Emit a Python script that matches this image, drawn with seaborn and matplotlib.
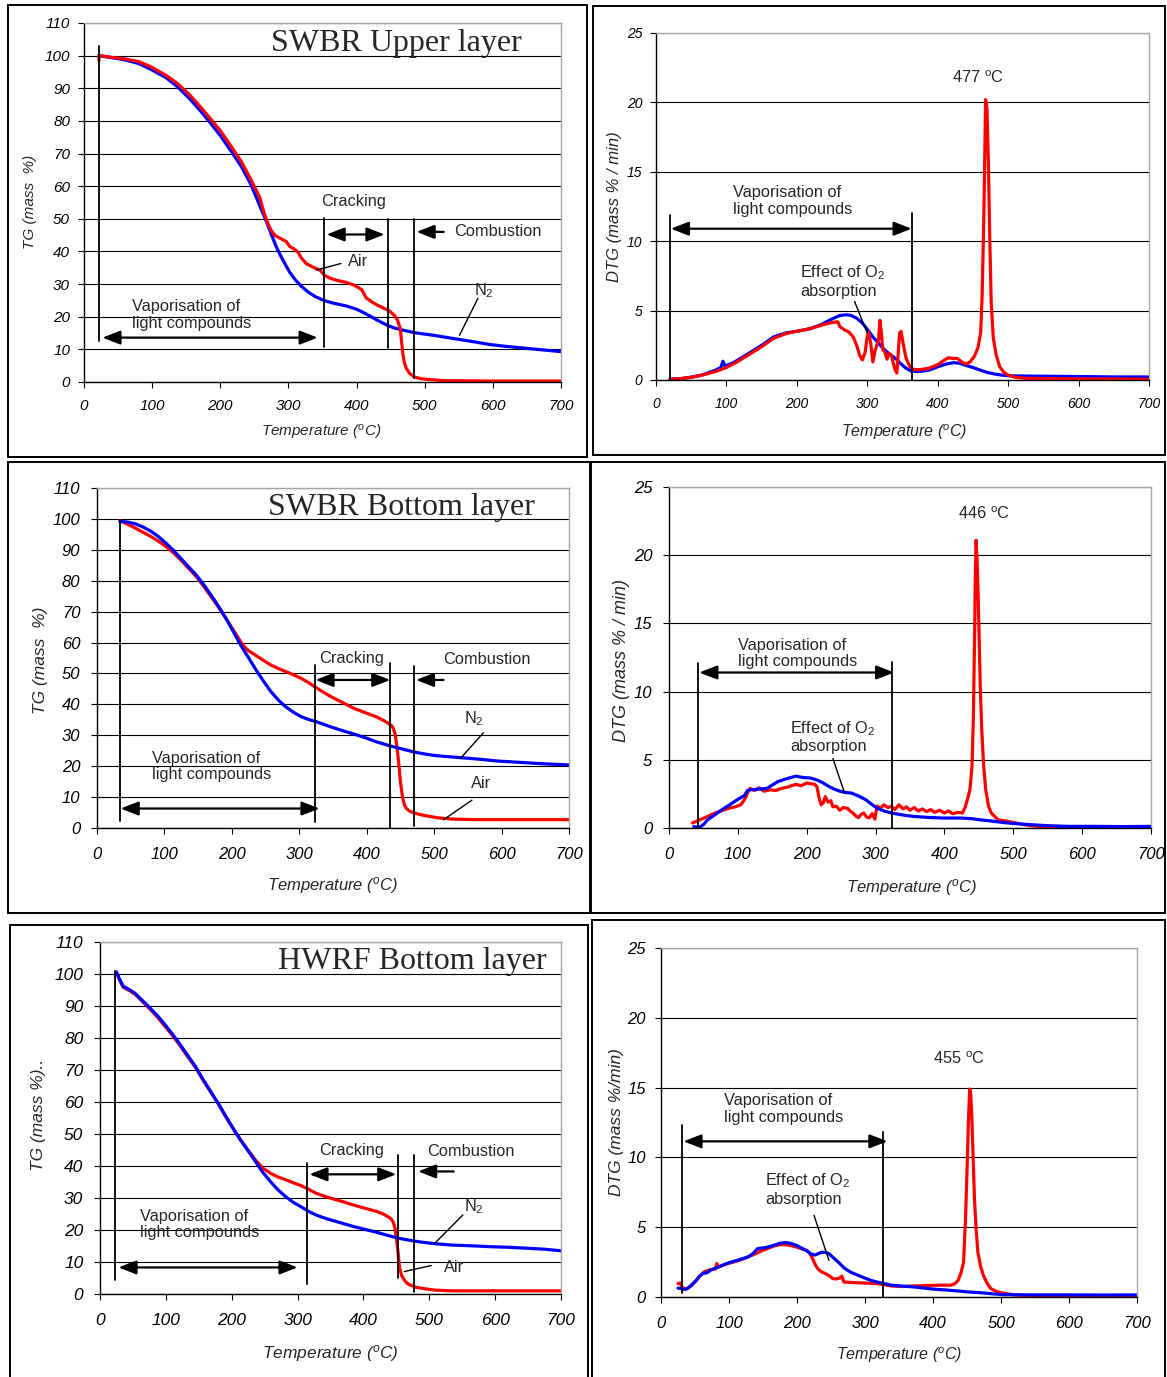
import numpy as np
import matplotlib
matplotlib.use("Agg")
import matplotlib.pyplot as plt
import seaborn as sns
from matplotlib.patches import Rectangle

# =============================
# DATA
# =============================
# SWBR upper layer - TG
up_tg_n2_t = [22, 40, 60, 80, 98, 120, 137, 155, 170, 185, 200, 215, 231, 245, 258, 267, 275, 282,
              289, 296, 302, 310, 319, 330, 340, 352, 365, 385, 400, 407, 418, 429, 438, 446, 456,
              468, 485, 510, 540, 570, 595, 620, 650, 675, 700]
up_tg_n2 = [100, 99.4, 98.7, 97.6, 95.8, 93.3, 90.5, 86.8, 83.3, 79.5, 75.5, 71, 66, 60.5, 54, 49.5,
            45.2, 41.5, 38.5, 35.8, 33.6, 31.3, 29.3, 27.4, 26.1, 25, 24.2, 23.3, 22.3, 21.6, 20.4,
            19.1, 18.1, 17.3, 16.5, 15.9, 15.1, 14.4, 13.4, 12.4, 11.5, 10.9, 10.3, 9.8, 9.3]
up_tg_air_t = [22, 22, 40, 60, 80, 98, 120, 137, 155, 170, 185, 200, 215, 231, 245, 258, 264, 270,
               275, 281, 290, 297, 302, 308, 314, 319, 326, 335, 347, 352, 360, 370, 385, 395, 402,
               408, 411, 414, 422, 430, 440, 448, 455, 460, 464, 466, 468, 470, 473, 478, 485, 495,
               510, 530, 600, 700]
up_tg_air = [98.5, 100, 99.5, 99, 98.2, 96.6, 94, 91.5, 88, 84.5, 80.8, 77, 72.5, 67.5, 62, 56.5, 52,
             48.5, 46.3, 44.8, 43.8, 43, 41.5, 40.8, 39.8, 38, 36.3, 35.3, 34.2, 32.8, 31.9, 31.2,
             30.5, 29.8, 29, 28.2, 27, 25.8, 24.6, 23.6, 22.6, 21.8, 20.5, 19, 16.5, 12.5, 8.5, 6,
             4.2, 2.6, 1.5, 1, 0.7, 0.4, 0.3, 0.3]

# SWBR upper layer - DTG
up_dtg_n2_t = [20, 35, 50, 65, 84, 92, 95, 98, 110, 131, 150, 167, 185, 199, 219, 235, 246, 261, 270,
               277, 285, 293, 300, 308, 316, 324, 332, 340, 347, 355, 362, 371, 387, 400, 412, 423,
               432, 440, 450, 460, 470, 481, 491, 501, 550, 600, 650, 700]
up_dtg_n2 = [0.05, 0.1, 0.2, 0.35, 0.7, 0.9, 1.35, 1.0, 1.25, 1.9, 2.5, 3.1, 3.4, 3.5, 3.7, 4.0, 4.3,
             4.65, 4.7, 4.65, 4.45, 4.1, 3.65, 3.1, 2.65, 2.2, 1.85, 1.55, 1.2, 0.85, 0.65, 0.6, 0.7,
             0.95, 1.15, 1.25, 1.2, 1.05, 0.9, 0.72, 0.55, 0.43, 0.35, 0.3, 0.27, 0.25, 0.22, 0.22]
up_dtg_air_t = [20, 35, 50, 65, 84, 100, 115, 131, 150, 167, 185, 199, 219, 235, 246, 258, 261, 268,
                274, 280, 285, 289, 293, 297, 300, 302, 305, 308, 311, 314, 316, 318, 320, 322, 325,
                328, 331, 334, 337, 339, 342, 344, 346, 348, 351, 355, 360, 366, 375, 387, 400, 410,
                415, 422, 428, 434, 440, 446, 452, 457, 461, 463, 465, 466.5, 468, 470, 472, 474,
                476, 479, 483, 488, 494, 500, 510, 525, 600, 700]
up_dtg_air = [0.05, 0.1, 0.2, 0.35, 0.6, 0.9, 1.3, 1.8, 2.4, 3.0, 3.35, 3.5, 3.7, 3.95, 4.1, 4.2,
              3.85, 3.6, 3.45, 3.1, 2.5, 1.8, 1.45, 2.0, 3.2, 3.4, 2.6, 1.3, 2.1, 2.6, 2.9, 4.3, 3.4,
              2.2, 2.0, 1.5, 1.9, 1.8, 1.2, 0.8, 0.5, 2.0, 3.4, 3.5, 2.6, 1.6, 1.0, 0.75, 0.75, 0.84,
              1.1, 1.45, 1.6, 1.55, 1.55, 1.3, 1.15, 1.3, 1.7, 2.3, 3.4, 6.0, 10.5, 15.0, 20.2, 19.5,
              15.5, 10.0, 5.5, 3.0, 1.8, 0.96, 0.55, 0.35, 0.2, 0.12, 0.08, 0.05]

# SWBR bottom layer - TG
bot_tg_n2_t = [34, 45, 57, 68, 80, 91, 102, 113, 124, 135, 147, 158, 169, 180, 191, 202, 213, 225,
               236, 247, 258, 269, 280, 291, 303, 314, 325, 347, 364, 381, 398, 414, 425, 436, 450,
               470, 487, 503, 525, 548, 570, 592, 615, 637, 660, 680, 700]
bot_tg_n2 = [99.2, 99, 98.4, 97.4, 96, 94.3, 92.2, 89.9, 87.3, 84.7, 81.9, 78.8, 75.4, 71.8, 67.9,
             63.6, 59.2, 55, 51.1, 47.5, 44.1, 41.4, 39.2, 37.5, 36, 35.1, 34.4, 32.7, 31.5, 30.4,
             29.2, 27.9, 27.2, 26.5, 25.7, 24.6, 23.9, 23.4, 23, 22.6, 22.2, 21.7, 21.4, 21.1, 20.8,
             20.6, 20.4]
bot_tg_air_t = [34, 45, 57, 68, 80, 91, 102, 113, 124, 135, 147, 158, 169, 180, 191, 202, 213, 219,
                225, 236, 247, 258, 269, 280, 291, 303, 314, 325, 336, 347, 364, 381, 398, 414, 425,
                436, 439, 442, 445, 448, 450, 453, 456, 459, 464, 470, 480, 492, 505, 526, 560, 600,
                650, 700]
bot_tg_air = [99.4, 98.3, 97, 95.7, 94.3, 92.8, 91.1, 89.1, 86.8, 84.2, 81.4, 78.3, 74.9, 71.5, 67.9,
              64.1, 60.3, 58.5, 57.3, 55.8, 54.2, 52.7, 51.6, 50.6, 49.6, 48.4, 47, 45.4, 43.9, 42.5,
              40.6, 38.7, 37.3, 36, 34.8, 33.3, 32.5, 30.5, 26, 19.8, 15, 10.1, 7.4, 6.3, 5.4, 4.9,
              4.3, 3.8, 3.3, 2.9, 2.7, 2.7, 2.7, 2.7]

# SWBR bottom layer - DTG
bot_dtg_n2_t = [36, 45, 50, 56, 66, 77, 88, 99, 110, 114, 118, 130, 142, 150, 158, 170, 184, 195, 206,
                216, 224, 232, 240, 248, 257, 265, 275, 286, 294, 302, 312, 323, 340, 355, 375, 398,
                425, 440, 452, 470, 484, 500, 526, 550, 580, 620, 660, 700]
bot_dtg_n2 = [0.1, 0.07, 0.25, 0.6, 0.95, 1.34, 1.7, 2.07, 2.4, 2.75, 2.8, 2.85, 2.9, 3.15, 3.4, 3.6,
              3.8, 3.7, 3.66, 3.5, 3.3, 3.05, 2.85, 2.7, 2.6, 2.56, 2.35, 2.07, 1.75, 1.46, 1.25, 1.1,
              0.95, 0.85, 0.78, 0.73, 0.73, 0.68, 0.6, 0.5, 0.41, 0.33, 0.24, 0.17, 0.12, 0.12, 0.1,
              0.12]
bot_dtg_air_t = [34, 40, 45, 56, 67, 78, 88, 96, 104, 108, 112, 115, 118, 124, 131, 138, 147, 155, 163,
                 172, 184, 192, 200, 206, 212, 215, 218, 221, 224, 227, 231, 235, 238, 243, 248, 253,
                 259, 263, 267, 271, 275, 279, 283, 287, 291, 295, 299, 302, 307, 312, 318, 323, 328,
                 334, 340, 345, 350, 356, 362, 368, 374, 380, 386, 393, 400, 406, 412, 420, 426, 430,
                 434, 437, 440, 442, 444, 445, 446, 447.5, 449, 450, 452, 454, 457, 460, 464, 468,
                 478, 490, 500, 515, 526, 553, 600, 650, 700]
bot_dtg_air = [0.37, 0.5, 0.6, 0.85, 1.1, 1.3, 1.46, 1.55, 1.7, 1.95, 2.3, 2.7, 2.9, 2.75, 2.95, 2.7,
               2.8, 2.75, 2.9, 3.0, 3.2, 3.1, 3.3, 3.25, 3.2, 3.0, 2.2, 1.7, 1.85, 2.3, 1.9, 2.0, 1.55,
               1.6, 1.3, 1.5, 1.45, 1.25, 1.1, 0.9, 0.75, 1.0, 1.1, 0.8, 0.75, 1.05, 0.65, 1.6, 1.45,
               1.7, 1.5, 1.6, 1.35, 1.7, 1.4, 1.55, 1.3, 1.5, 1.25, 1.4, 1.2, 1.35, 1.15, 1.3, 1.1,
               1.25, 1.05, 1.15, 1.1, 1.5, 2.2, 2.8, 4.5, 8.0, 14.8, 19.0, 21.1, 19.6, 17.0, 14.8,
               10.5, 7.4, 4.5, 2.8, 1.6, 1.1, 0.6, 0.5, 0.41, 0.25, 0.17, 0.05, 0.04, 0.04, 0.05]

# HWRF bottom layer - TG
hw_tg_n2_t = [25, 29, 35, 44, 53, 64, 76, 88, 99, 110, 122, 133, 145, 156, 168, 180, 191, 202, 213,
              225, 236, 247, 259, 270, 282, 293, 305, 316, 328, 340, 351, 368, 385, 402, 420, 437,
              454, 470, 488, 510, 534, 560, 591, 620, 649, 675, 700]
hw_tg_n2 = [100.6, 98.7, 96.2, 95.2, 94, 91.8, 89.4, 86.8, 84.1, 81.2, 77.9, 74.6, 71.1, 67.2, 63.3,
            59.4, 55.5, 51.8, 48.2, 44.7, 41.4, 38.1, 35.1, 32.6, 30.4, 28.7, 27.3, 25.9, 24.7, 23.8,
            23.1, 22.1, 21.1, 20.2, 19.3, 18.3, 17.4, 16.8, 16.2, 15.7, 15.3, 15.1, 14.8, 14.6, 14.3,
            14.0, 13.5]
hw_tg_air_t = [25, 29, 35, 44, 53, 64, 76, 88, 99, 110, 122, 133, 145, 156, 168, 180, 191, 202, 213,
               225, 236, 247, 259, 270, 282, 293, 305, 316, 328, 340, 351, 368, 385, 402, 420, 430,
               437, 442, 445, 448, 450, 452, 455, 458, 462, 466, 471, 480, 494, 510, 534, 600, 700]
hw_tg_air = [100.6, 98.4, 95.9, 94.9, 93.7, 91.5, 89.0, 86.3, 83.6, 80.8, 77.5, 74.2, 70.8, 67, 63.1,
             59.3, 55.4, 51.8, 48.3, 44.9, 41.9, 39.4, 37.7, 36.6, 35.7, 34.8, 33.9, 32.8, 31.5, 30.6,
             29.9, 28.9, 27.8, 26.8, 25.8, 25, 24.2, 23.5, 22.6, 20.5, 17.5, 14, 8, 5.8, 4.4, 3.4,
             2.8, 2.1, 1.6, 1.2, 1.0, 1.0, 1.0]

# HWRF bottom layer - DTG
hw_dtg_n2_t = [25, 30, 34, 39, 45, 52, 57, 61, 68, 74, 82, 90, 100, 112, 120, 128, 135, 142, 155, 166,
               175, 182, 190, 199, 207, 215, 220, 226, 231, 236, 242, 247, 255, 263, 270, 280, 296,
               308, 318, 330, 339, 355, 372, 390, 404, 420, 437, 452, 469, 485, 502, 550, 600, 650,
               700]
hw_dtg_n2 = [0.64, 0.6, 0.55, 0.6, 0.85, 1.2, 1.5, 1.67, 1.75, 1.96, 2.1, 2.27, 2.45, 2.63, 2.75,
             2.87, 3.1, 3.46, 3.55, 3.7, 3.85, 3.9, 3.85, 3.7, 3.5, 3.3, 3.1, 3.0, 3.1, 3.2, 3.2, 3.1,
             2.75, 2.39, 2.05, 1.75, 1.43, 1.2, 1.07, 0.95, 0.84, 0.78, 0.72, 0.62, 0.55, 0.5, 0.43,
             0.36, 0.31, 0.24, 0.17, 0.15, 0.15, 0.14, 0.15]
hw_dtg_air_t = [25, 28, 31, 36, 44, 52, 57, 63, 72, 80, 82, 85, 95, 112, 125, 139, 150, 166, 175, 182,
                190, 199, 207, 215, 219, 223, 227, 231, 236, 242, 248, 253, 258, 263, 266, 269, 277,
                285, 300, 318, 339, 355, 372, 390, 404, 415, 426, 432, 437, 441, 445, 448, 450, 452,
                454, 455.5, 457, 459, 461, 463.5, 466, 470, 474, 480, 485, 493, 502, 520, 545, 600,
                700]
hw_dtg_air = [0.96, 1.0, 0.72, 0.55, 0.8, 1.2, 1.5, 1.79, 1.95, 2.0, 2.4, 2.15, 2.35, 2.58, 2.8, 3.1,
              3.35, 3.65, 3.75, 3.75, 3.7, 3.58, 3.45, 3.3, 3.1, 2.75, 2.3, 2.0, 1.8, 1.67, 1.5, 1.31,
              1.3, 1.36, 1.5, 1.07, 1.05, 1.03, 1.0, 0.96, 0.79, 0.75, 0.79, 0.82, 0.84, 0.85, 0.84,
              0.95, 1.2, 1.7, 2.5, 5.85, 9.0, 12.5, 14.9, 14.5, 13, 10, 7.0, 4.8, 3.2, 2.2, 1.55, 0.95,
              0.6, 0.4, 0.29, 0.15, 0.07, 0.05, 0.05]

# =============================
# STYLE
# =============================
sns.set_style("white")
plt.rcParams["font.family"] = ["Liberation Sans", "DejaVu Sans"]
plt.rcParams["mathtext.fontset"] = "custom"
plt.rcParams["mathtext.rm"] = "Liberation Sans"
plt.rcParams["mathtext.it"] = "Liberation Sans:italic"
plt.rcParams["mathtext.default"] = "regular"

W, H = 1167, 1377
RED, BLUE = "#ff0000", "#0000ff"
ANN = 11.8


def frame(fig, box):
    l, t, r, b = box
    fig.add_artist(Rectangle((l / W, 1 - b / H), (r - l) / W, (b - t) / H,
                             transform=fig.transFigure, fill=False, ec="black", lw=1.4))


def make_axes(fig, box, ymax, ystep, fs, xpad, ypad):
    l, t, r, b = box
    ax = fig.add_axes([l / W, 1 - b / H, (r - l) / W, (b - t) / H])
    ax.set_xlim(0, 700)
    ax.set_ylim(0, ymax)
    xt = list(range(0, 701, 100))
    yt = list(range(0, ymax + 1, ystep))
    ax.set_xticks(xt, labels=[str(v) for v in xt], fontstyle="italic", fontsize=fs)
    ax.set_yticks(yt, labels=[str(v) for v in yt], fontstyle="italic", fontsize=fs)
    ax.yaxis.grid(True, color="black", lw=0.8)
    ax.xaxis.grid(False)
    ax.set_axisbelow(True)
    for s in ["left", "bottom"]:
        ax.spines[s].set_color("black")
        ax.spines[s].set_linewidth(1.0)
    for s in ["top", "right"]:
        ax.spines[s].set_color("#a6a6a6")
        ax.spines[s].set_linewidth(1.0)
    ax.tick_params(direction="out", length=4, width=0.8, colors="black",
                   left=True, bottom=True)
    ax.tick_params(axis="x", pad=xpad)
    ax.tick_params(axis="y", pad=ypad)
    return ax


def labels(ax, box, xlab, xpos, ylab, ypos, xfs, yfs):
    l, t, r, b = box
    ax.set_xlabel(xlab, fontsize=xfs, style="italic")
    ax.xaxis.set_label_coords((xpos[0] - l) / (r - l), (b - xpos[1]) / (b - t))
    ax.xaxis.label.set_va("center")
    ax.set_ylabel(ylab, fontsize=yfs, style="italic")
    ax.yaxis.set_label_coords((ypos[0] - l) / (r - l), (b - ypos[1]) / (b - t))
    ax.yaxis.label.set_va("center")


def curve(ax, t, v, color):
    sns.lineplot(x=t, y=v, ax=ax, color=color, linewidth=2.3, sort=False, estimator=None,
                 legend=False, zorder=2)


def vline(ax, x, y0, y1):
    ax.plot([x, x], [y0, y1], color="black", lw=1.3, zorder=3, clip_on=False)


def darrow(ax, x0, x1, y):
    ax.annotate("", xy=(x1, y), xytext=(x0, y),
                arrowprops=dict(arrowstyle="<|-|>,head_length=0.9,head_width=0.35",
                                mutation_scale=12, color="black", lw=1.6,
                                shrinkA=0, shrinkB=0), zorder=4)


def larrow(ax, x0, x1, y):
    ax.annotate("", xy=(x1, y), xytext=(x0, y),
                arrowprops=dict(arrowstyle="-|>,head_length=0.9,head_width=0.35",
                                mutation_scale=12, color="black", lw=1.6,
                                shrinkA=0, shrinkB=0), zorder=4)


def pointer(ax, x0, y0, x1, y1):
    ax.plot([x0, x1], [y0, y1], color="black", lw=1.0, zorder=4)


def txt(ax, x, y, s, ha="left", fs=ANN):
    ax.text(x, y, s, ha=ha, va="center", fontsize=fs, linespacing=1.15, zorder=5)


VAP = "Vaporisation of\nlight compounds"
EFF = "Effect of O$_2$\nabsorption"
TEMP = "Temperature ($^{o}$C)"

fig = plt.figure(figsize=(W / 100, H / 100), dpi=100)

# frames
for fb in [(8, 5, 587, 457), (593, 6, 1165, 455), (8, 462, 590, 913),
           (591, 462, 1165, 913), (10, 925, 588, 1380), (592, 920, 1165, 1380)]:
    frame(fig, fb)

# ---------- TL: SWBR upper TG ----------
b1 = (84, 23, 561, 382)
ax = make_axes(fig, b1, 110, 10, 11, 8, 6)
curve(ax, up_tg_n2_t, up_tg_n2, BLUE)
curve(ax, up_tg_air_t, up_tg_air, RED)
labels(ax, b1, TEMP, (321, 433), "TG (mass  %)", (30, 202), 11, 11)
for x, y0, y1 in [(22, 12.5, 103), (352, 10.7, 50.1), (446, 10.5, 50), (485, 1.3, 50)]:
    vline(ax, x, y0, y1)
darrow(ax, 27, 343, 13.6)
txt(ax, 70, 20.5, VAP)
darrow(ax, 356, 441, 45.2)
txt(ax, 396, 55.2, "Cracking", ha="center")
larrow(ax, 528, 488, 46)
txt(ax, 543, 46, "Combustion")
txt(ax, 388, 36.8, "Air")
pointer(ax, 341, 34.3, 377, 36.3)
txt(ax, 573, 28, "N$_2$")
pointer(ax, 578, 25.6, 551, 14.3)
ax.text(643, 101.3, "SWBR Upper layer", ha="right", va="baseline",
        family="Liberation Serif", fontsize=23, zorder=5)

# ---------- TR: SWBR upper DTG ----------
b2 = (656, 33, 1149, 380)
ax = make_axes(fig, b2, 25, 5, 10, 8, 6)
curve(ax, up_dtg_n2_t, up_dtg_n2, BLUE)
curve(ax, up_dtg_air_t, up_dtg_air, RED)
labels(ax, b2, TEMP, (904, 432), "DTG (mass % / min)", (615, 207), 11.5, 12)
vline(ax, 20, 0, 11.9)
vline(ax, 364, 0, 12.0)
darrow(ax, 21, 363, 10.9)
txt(ax, 110, 12.9, VAP)
txt(ax, 205, 7.1, EFF)
pointer(ax, 282, 5.65, 300, 3.37)
txt(ax, 457, 21.8, "477 $^{o}$C", ha="center")

# ---------- ML: SWBR bottom TG ----------
b3 = (97, 488, 569, 828)
ax = make_axes(fig, b3, 110, 10, 12, 10, 8)
curve(ax, bot_tg_air_t, bot_tg_air, RED)
curve(ax, bot_tg_n2_t, bot_tg_n2, BLUE)
labels(ax, b3, TEMP, (332, 886), "TG (mass  %)", (41, 660), 12, 12.5)
for x, y0, y1 in [(34, 2.2, 99.2), (324, 2, 52.8), (434, 0, 53.5), (470, 0.5, 52.4)]:
    vline(ax, x, y0, y1)
darrow(ax, 35, 330, 6.3)
txt(ax, 82, 19.9, VAP)
darrow(ax, 324, 435, 47.9)
txt(ax, 378, 54.9, "Cracking", ha="center")
larrow(ax, 514, 473, 47.9)
txt(ax, 578, 54.4, "Combustion", ha="center")
txt(ax, 559, 35.4, "N$_2$", ha="center")
pointer(ax, 573, 30.8, 539, 22.5)
txt(ax, 570, 14.4, "Air", ha="center")
pointer(ax, 556, 9, 514, 2.7)
ax.text(649, 101.4, "SWBR Bottom layer", ha="right", va="baseline",
        family="Liberation Serif", fontsize=23, zorder=5)

# ---------- MR: SWBR bottom DTG ----------
b4 = (669, 487, 1151, 828)
ax = make_axes(fig, b4, 25, 5, 12, 10, 8)
curve(ax, bot_dtg_air_t, bot_dtg_air, RED)
curve(ax, bot_dtg_n2_t, bot_dtg_n2, BLUE)
labels(ax, b4, TEMP, (911, 887), "DTG (mass % / min)", (622, 660), 12, 13)
vline(ax, 42, 0, 12.1)
vline(ax, 324, 0, 12.2)
darrow(ax, 44, 327, 11.4)
txt(ax, 100, 12.8, VAP)
txt(ax, 176, 6.7, EFF)
pointer(ax, 238, 5.1, 255, 2.56)
txt(ax, 457, 23.05, "446 $^{o}$C", ha="center")

# ---------- BL: HWRF bottom TG ----------
b5 = (100, 942, 561, 1294)
ax = make_axes(fig, b5, 110, 10, 12.5, 10, 8)
curve(ax, hw_tg_air_t, hw_tg_air, RED)
curve(ax, hw_tg_n2_t, hw_tg_n2, BLUE)
labels(ax, b5, TEMP, (330, 1354), "TG (mass %)..", (38, 1115), 12.5, 12.5)
for x, y0, y1 in [(23, 4.4, 101), (315, 3, 40.9), (452, 4.9, 43.3), (477, 0.5, 43.3)]:
    vline(ax, x, y0, y1)
darrow(ax, 28, 300, 8.3)
txt(ax, 61, 21.7, VAP)
darrow(ax, 318, 450, 37.4)
txt(ax, 382, 45, "Cracking", ha="center")
larrow(ax, 537, 483, 38.3)
txt(ax, 563, 44.5, "Combustion", ha="center")
txt(ax, 568, 27.3, "N$_2$", ha="center")
pointer(ax, 551, 24.7, 508, 15.8)
txt(ax, 537, 8.2, "Air", ha="center")
pointer(ax, 503, 8.9, 462, 7)
ax.text(678, 101.7, "HWRF Bottom layer", ha="right", va="baseline",
        family="Liberation Serif", fontsize=23, zorder=5)

# ---------- BR: HWRF bottom DTG ----------
b6 = (661, 948, 1137, 1297)
ax = make_axes(fig, b6, 25, 5, 12, 10, 7)
curve(ax, hw_dtg_air_t, hw_dtg_air, RED)
curve(ax, hw_dtg_n2_t, hw_dtg_n2, BLUE)
labels(ax, b6, TEMP, (899, 1355), "DTG (mass %/min)", (616, 1122), 11.5, 12.5)
vline(ax, 31, 0.3, 12.3)
vline(ax, 326, 0, 11.8)
darrow(ax, 33, 333, 11.15)
txt(ax, 93, 13.45, VAP)
txt(ax, 153, 7.7, EFF)
pointer(ax, 225, 5.85, 247, 2.63)
txt(ax, 439, 17.1, "455 $^{o}$C", ha="center")

fig.savefig("out.png", dpi=100)
plt.close(fig)
